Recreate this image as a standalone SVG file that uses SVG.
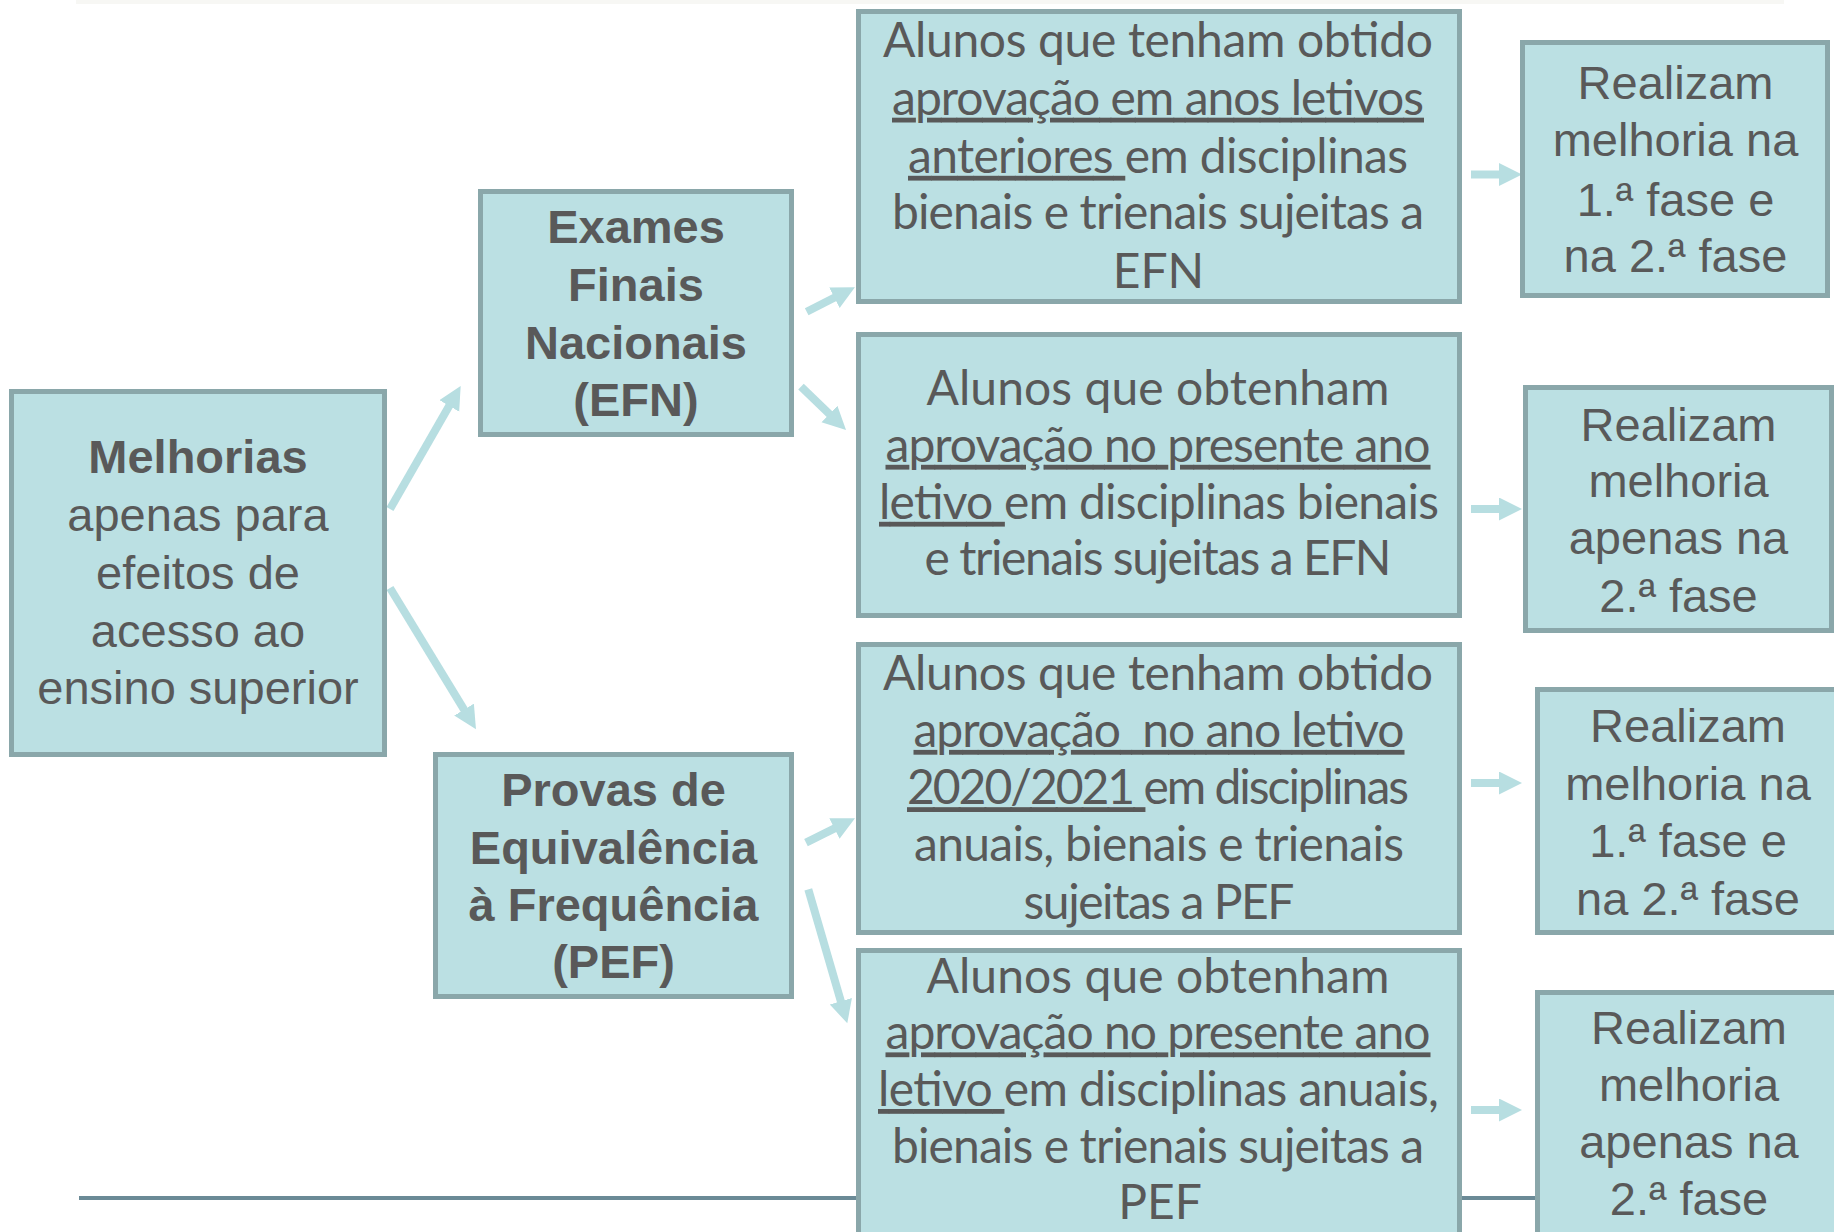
<svg xmlns="http://www.w3.org/2000/svg" width="1834" height="1232" viewBox="0 0 1834 1232">
<style>
.box{fill:#bbe0e3;stroke:#8aa7aa;stroke-width:5}
.ar{font-family:"Liberation Sans",Arial,sans-serif;font-size:47px;fill:#595959;text-anchor:middle}
.b{font-weight:bold}
.cb{font-family:Lato,"Liberation Sans",sans-serif;font-size:48px;fill:#595959;text-anchor:middle}
.u{text-decoration:underline}
.con{stroke:#b7dee1;stroke-width:8;fill:none;marker-end:url(#ah)}
</style>
<defs>
<marker id="ah" markerUnits="userSpaceOnUse" markerWidth="24" markerHeight="24" refX="3" refY="11.5" orient="auto" viewBox="0 0 24 24">
<path d="M0,0 L23,11.5 L0,23 z" fill="#b7dee1"/>
</marker>
</defs>
<rect x="0" y="0" width="1834" height="1232" fill="#ffffff"/>
<rect x="76" y="0" width="1708" height="4" fill="#f7f7f4"/>
<line x1="79" y1="1198" x2="1540" y2="1198" stroke="#6b8a96" stroke-width="4"/>

<g id="connectors">
<line class="con" x1="390" y1="509" x2="450.7" y2="403.3"/>
<line class="con" x1="390" y1="588" x2="465.6" y2="712.2"/>
<line class="con" x1="806.7" y1="311.7" x2="837.1" y2="296.3"/>
<line class="con" x1="801" y1="386.7" x2="831.6" y2="416.1"/>
<line class="con" x1="806" y1="842.7" x2="837.1" y2="827.2"/>
<line class="con" x1="808.3" y1="889.3" x2="841.7" y2="1004.1"/>
<line class="con" x1="1471" y1="174.5" x2="1502" y2="174.5"/>
<line class="con" x1="1471" y1="509" x2="1502" y2="509"/>
<line class="con" x1="1471" y1="783" x2="1502" y2="783"/>
<line class="con" x1="1471" y1="1110" x2="1502" y2="1110"/>
</g>

<g id="melhorias">
<rect class="box" x="11.5" y="391.5" width="373" height="363"/>
<text class="ar b" x="198" y="473">Melhorias</text>
<text class="ar" x="198" y="531">apenas para</text>
<text class="ar" x="198" y="589">efeitos de</text>
<text class="ar" x="198" y="646.5">acesso ao</text>
<text class="ar" x="198" y="704">ensino superior</text>
</g>

<g id="efn">
<rect class="box" x="480.5" y="191.5" width="311" height="243"/>
<text class="ar b" x="636" y="243">Exames</text>
<text class="ar b" x="636" y="301">Finais</text>
<text class="ar b" x="636" y="359">Nacionais</text>
<text class="ar b" x="636" y="416">(EFN)</text>
</g>

<g id="pef">
<rect class="box" x="435.5" y="754.5" width="356" height="242"/>
<text class="ar b" x="613.5" y="805.5">Provas de</text>
<text class="ar b" x="613.5" y="864">Equivalência</text>
<text class="ar b" x="613.5" y="921">à Frequência</text>
<text class="ar b" x="613.5" y="978">(PEF)</text>
</g>

<g id="efn-anteriores">
<rect class="box" x="858.5" y="11.5" width="601" height="290"/>
<text class="cb" x="1158" y="57.3" textLength="550">Alunos que tenham obtido</text>
<text class="cb" x="1158" y="114.7" textLength="532"><tspan class="u">aprovação em anos letivos</tspan></text>
<text class="cb" x="1158" y="172.8" textLength="500"><tspan class="u">anteriores </tspan>em disciplinas</text>
<text class="cb" x="1158" y="229" textLength="532">bienais e trienais sujeitas a</text>
<text class="cb" x="1158.5" y="288">EFN</text>
</g>

<g id="efn-presente">
<rect class="box" x="858.5" y="334.5" width="601" height="281"/>
<text class="cb" x="1158" y="405.3" textLength="463">Alunos que obtenham</text>
<text class="cb" x="1158" y="461.8" textLength="545"><tspan class="u">aprovação no presente ano</tspan></text>
<text class="cb" x="1159" y="518.8" textLength="560"><tspan class="u">letivo </tspan>em disciplinas bienais</text>
<text class="cb" x="1158" y="575.3" textLength="467">e trienais sujeitas a EFN</text>
</g>

<g id="pef-2020">
<rect class="box" x="858.5" y="644.5" width="601" height="288"/>
<text class="cb" x="1158" y="690.3" textLength="550">Alunos que tenham obtido</text>
<text class="cb" x="1159" y="746.9" textLength="491" style="white-space:pre"><tspan class="u">aprovação  no ano letivo</tspan></text>
<text class="cb" x="1158" y="804.2" textLength="502"><tspan class="u">2020/2021 </tspan>em disciplinas</text>
<text class="cb" x="1159" y="861.2" textLength="490">anuais, bienais e trienais</text>
<text class="cb" x="1159" y="918.6" textLength="271">sujeitas a PEF</text>
</g>

<g id="pef-presente">
<rect class="box" x="858.5" y="950.5" width="601" height="300"/>
<text class="cb" x="1158" y="992.8" textLength="463">Alunos que obtenham</text>
<text class="cb" x="1158" y="1049.4" textLength="545"><tspan class="u">aprovação no presente ano</tspan></text>
<text class="cb" x="1158.5" y="1106" textLength="561"><tspan class="u">letivo </tspan>em disciplinas anuais,</text>
<text class="cb" x="1158" y="1162.5" textLength="532">bienais e trienais sujeitas a</text>
<text class="cb" x="1160" y="1219">PEF</text>
</g>

<g id="realizam-1">
<rect class="box" x="1522.5" y="42.5" width="305" height="253"/>
<text class="ar" x="1675.5" y="99">Realizam</text>
<text class="ar" x="1675.5" y="156.2">melhoria na</text>
<text class="ar" x="1675.5" y="215.5">1.ª fase e</text>
<text class="ar" x="1675.5" y="272">na 2.ª fase</text>
</g>

<g id="realizam-2">
<rect class="box" x="1525.5" y="387.5" width="306" height="243"/>
<text class="ar" x="1678.5" y="441">Realizam</text>
<text class="ar" x="1678.5" y="497.4">melhoria</text>
<text class="ar" x="1678.5" y="553.6">apenas na</text>
<text class="ar" x="1678.5" y="612">2.ª fase</text>
</g>

<g id="realizam-3">
<rect class="box" x="1537.5" y="689.5" width="302" height="243"/>
<text class="ar" x="1688" y="741.8">Realizam</text>
<text class="ar" x="1688" y="800.3">melhoria na</text>
<text class="ar" x="1688" y="857.3">1.ª fase e</text>
<text class="ar" x="1688" y="914.7">na 2.ª fase</text>
</g>

<g id="realizam-4">
<rect class="box" x="1537.5" y="992.5" width="302" height="300"/>
<text class="ar" x="1689" y="1043.5">Realizam</text>
<text class="ar" x="1689" y="1101">melhoria</text>
<text class="ar" x="1689" y="1158">apenas na</text>
<text class="ar" x="1689" y="1215">2.ª fase</text>
</g>
</svg>
